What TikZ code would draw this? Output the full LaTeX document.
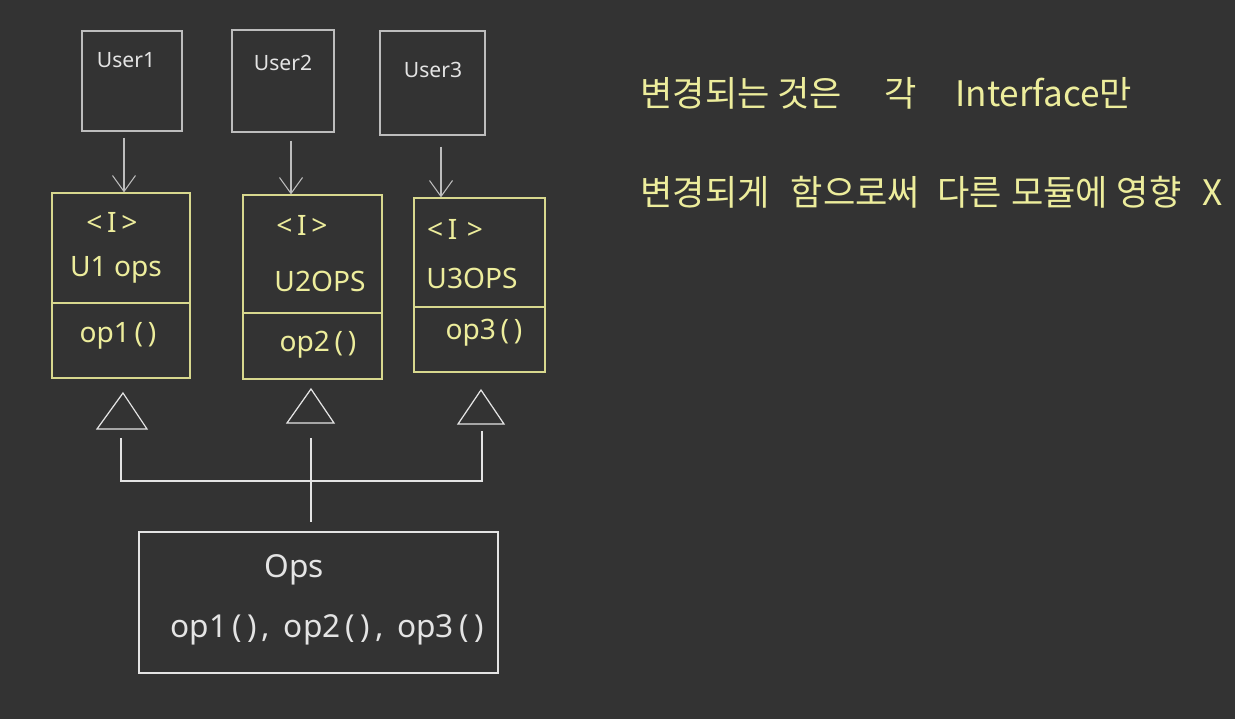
\documentclass[tikz,border=0pt]{standalone}
\usepackage{fontspec}
\setmainfont{Noto Sans}
\newfontfamily\kofont{Noto Sans CJK KR}
\usetikzlibrary{arrows.meta,positioning,calc}
\definecolor{board}{HTML}{333333}
\definecolor{chalk}{HTML}{E4E4E4}
\definecolor{chalkd}{HTML}{BDBDBD}
\definecolor{pyel}{HTML}{D8D88E}
\definecolor{pyelt}{HTML}{EDED9C}
\tikzset{
  % hand-drawn boxes on a dark board
  userbox/.style = {rectangle, draw=chalkd, line width=0.6pt, inner sep=0pt},
  ibox/.style    = {rectangle, draw=pyel, line width=0.7pt, inner sep=0pt},
  opsbox/.style  = {rectangle, draw=chalk, line width=0.7pt, inner sep=0pt},
  ulbl/.style    = {font=\fontsize{12}{14}\selectfont, text=chalk, inner sep=0pt},
  ilbl/.style    = {font=\fontsize{16}{19}\selectfont, text=pyelt, inner sep=0pt},
  olbl/.style    = {font=\fontsize{18}{21}\selectfont, text=chalk, inner sep=0pt},
  note/.style    = {font=\kofont\fontsize{20}{24}\selectfont, text=pyelt, anchor=west, inner sep=0pt},
  arr/.style     = {-{Straight Barb[length=0.32cm, width=0.46cm]}, chalkd, line width=0.6pt},
  wire/.style    = {chalk, line width=0.7pt},
  iline/.style   = {pyel, line width=0.7pt},
}
\begin{document}
\begin{tikzpicture}[x=0.02cm,y=-0.02cm]
\fill[board] (0,0) rectangle (1235,719);
\useasboundingbox (0,0) rectangle (1235,719);
% users
\node[userbox, minimum width=2.0cm,  minimum height=2.0cm]  (u1) at (132,81)   {};
\node[userbox, minimum width=2.04cm, minimum height=2.04cm] (u2) at (283,81)   {};
\node[userbox, minimum width=2.1cm,  minimum height=2.08cm] (u3) at (432.5,83) {};
\node[ulbl] (u1t) at (126,60) {User1};
\node[ulbl] (u2t) at (283,63) {User2};
\node[ulbl] (u3t) at (433,70) {User3};
% interfaces
\node[ibox, minimum width=2.76cm, minimum height=3.70cm] (i1) at (121,285.5) {};
\node[ibox, minimum width=2.78cm, minimum height=3.68cm] (i2) at (312.5,287) {};
\node[ibox, minimum width=2.62cm, minimum height=3.48cm] (i3) at (479.5,285) {};
\draw[iline] (i1.west |- 0,303) -- (i1.east |- 0,303);
\draw[iline] (i2.west |- 0,313) -- (i2.east |- 0,313);
\draw[iline] (i3.west |- 0,307) -- (i3.east |- 0,307);
\node[ilbl] (i1a) at (112,222) {<\,I\,>};
\node[ilbl] (i2a) at (302,225) {<\,I\,>};
\node[ilbl] (i3a) at (455,229) {<\,I\,\,>};
\node[ilbl] (i1b) at (116,270) {U1 ops};
\node[ilbl] (i2b) at (320,281) {U2OPS};
\node[ilbl] (i3b) at (472,278) {U3OPS};
\node[ilbl] (i1c) at (118,336) {op1\,(\,)};
\node[ilbl] (i2c) at (318,345) {op2\,(\,)};
\node[ilbl] (i3c) at (484,333) {op3\,(\,)};
% user -> interface
\draw[arr, shorten <=0.12cm] (u1.south -| 124,0) -- (i1.north -| 124,0);
\draw[arr, shorten <=0.16cm] (u2.south -| 291,0) -- (i2.north -| 291,0);
\draw[arr, shorten <=0.22cm] (u3.south -| 441,0) -- (i3.north -| 441,0);
% realisation triangles
\coordinate (t1) at (123,393);
\coordinate (t2) at (311,389);
\coordinate (t3) at (481,390);
\draw[wire] (t1) -- (147,429) -- (97,429) -- cycle;
\draw[wire] (t2) -- (334,423) -- (287,423) -- cycle;
\draw[wire] (t3) -- (504,424) -- (458,424) -- cycle;
% ops
\node[opsbox, minimum width=7.18cm, minimum height=2.82cm] (ops) at (318.5,602.5) {};
\node[olbl] (opst) at (294,570) {Ops};
\node[olbl] (opsm) at (327,630) {op1\,(\,)\,,\, op2\,(\,)\,,\, op3\,(\,)};
\draw[wire] (121,438) |- (482,481) -- (482,431);
\draw[wire, shorten >=0.18cm] (311,438) -- (ops.north -| 311,0);
% note
\node[note] (n1) at (640,93)  {변경되는 것은\hspace{24pt}각\hspace{22pt}Interface만};
\node[note] (n2) at (640,192) {변경되게\hspace{12pt}함으로써\hspace{10pt}다른\hspace{5pt}모듈에\hspace{5pt}영향\hspace{12pt}X};
\end{tikzpicture}
\end{document}
